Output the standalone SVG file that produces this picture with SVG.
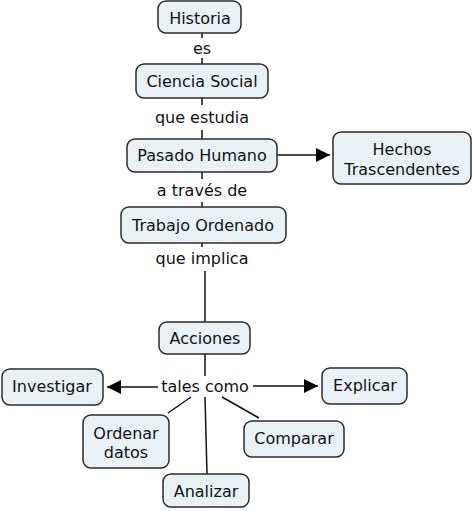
<svg xmlns="http://www.w3.org/2000/svg" width="474" height="511" viewBox="0 0 474 511">
<style>
.n rect{fill:#e9f1f5;stroke:#2b2b2b;stroke-width:1.5}
text{font-family:"DejaVu Sans",Verdana,sans-serif;font-size:16px;fill:#111;text-anchor:middle;dominant-baseline:central}
.c line{stroke:#111;stroke-width:1.5}
</style>
<defs>
<marker id="ah" viewBox="0 0 10 10" refX="10" refY="5" markerWidth="10" markerHeight="10" markerUnits="userSpaceOnUse" orient="auto"><path d="M0,0 L10,5 L0,10 z" fill="#000"/></marker>
<marker id="ahb" viewBox="0 0 14 14" refX="14" refY="7" markerWidth="14" markerHeight="14" markerUnits="userSpaceOnUse" orient="auto"><path d="M0,0 L14,7 L0,14 z" fill="#000"/></marker>
</defs>
<g class="c" id="connectors">
<line x1="202" y1="33" x2="202" y2="38"/>
<line x1="202" y1="58" x2="202" y2="64"/>
<line x1="202" y1="98" x2="202" y2="105"/>
<line x1="202" y1="130" x2="202" y2="139"/>
<line x1="202" y1="172" x2="202" y2="179"/>
<line x1="202" y1="202" x2="202" y2="207"/>
<line x1="202" y1="243" x2="202" y2="247"/>
<line x1="205" y1="271" x2="205" y2="322"/>
<line x1="205" y1="354" x2="205" y2="376"/>
<line x1="277" y1="155" x2="330" y2="155" marker-end="url(#ahb)"/>
<line x1="158" y1="387" x2="107" y2="387" marker-end="url(#ahb)"/>
<line x1="253" y1="386" x2="318" y2="386" marker-end="url(#ahb)"/>
<line x1="191" y1="397" x2="168" y2="413"/>
<line x1="205" y1="397" x2="207" y2="474"/>
<line x1="222" y1="397" x2="259" y2="418"/>
</g>
<g id="labels">
<text x="202" y="48">es</text>
<text x="202" y="117">que estudia</text>
<text x="202" y="190">a través de</text>
<text x="202" y="258">que implica</text>
<text x="205" y="386">tales como</text>
</g>
<g class="n" id="historia"><rect x="158" y="1" width="83" height="32" rx="8"/><text x="200" y="18">Historia</text></g>
<g class="n" id="ciencia"><rect x="136" y="64" width="132" height="34" rx="8"/><text x="202" y="81">Ciencia Social</text></g>
<g class="n" id="pasado"><rect x="127" y="139" width="150" height="33" rx="8"/><text x="202" y="155">Pasado Humano</text></g>
<g class="n" id="hechos"><rect x="333" y="132" width="138" height="52" rx="8"/><text x="402" y="149">Hechos</text><text x="402" y="169">Trascendentes</text></g>
<g class="n" id="trabajo"><rect x="121" y="207" width="165" height="36" rx="8"/><text x="203" y="225">Trabajo Ordenado</text></g>
<g class="n" id="acciones"><rect x="159" y="322" width="91" height="32" rx="8"/><text x="205" y="338">Acciones</text></g>
<g class="n" id="investigar"><rect x="2" y="369" width="101" height="36" rx="8"/><text x="52" y="386">Investigar</text></g>
<g class="n" id="explicar"><rect x="322" y="368" width="85" height="36" rx="8"/><text x="365" y="385">Explicar</text></g>
<g class="n" id="ordenar"><rect x="83" y="415" width="86" height="53" rx="8"/><text x="126" y="433">Ordenar</text><text x="126" y="452">datos</text></g>
<g class="n" id="comparar"><rect x="244" y="421" width="100" height="36" rx="8"/><text x="294" y="438">Comparar</text></g>
<g class="n" id="analizar"><rect x="163" y="474" width="86" height="33" rx="8"/><text x="206" y="491">Analizar</text></g>
</svg>
